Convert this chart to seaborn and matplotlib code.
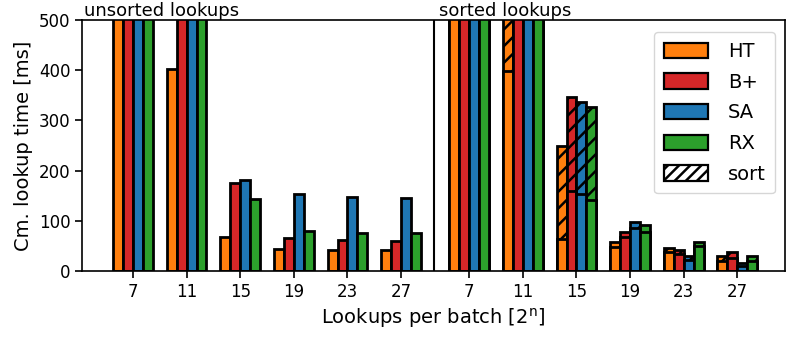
import numpy as np
import pandas as pd
import seaborn as sns
import matplotlib.pyplot as plt
from matplotlib.patches import Patch
from matplotlib.transforms import blended_transform_factory

# data (values above 500 are clipped in the plot)
batch_exp = ["7", "11", "15", "19", "23", "27"]
structures = ["HT", "B+", "SA", "RX"]

unsorted_ht = [900, 402, 68, 44, 42, 42]
unsorted_bp = [900, 800, 175, 66, 62, 60]
unsorted_sa = [900, 800, 181, 153, 148, 146]
unsorted_rx = [900, 800, 143, 80, 76, 76]

# sorted: lookup part and total (lookup + sort)
sorted_ht = [900, 398, 64, 47, 37, 19]
sorted_bp = [900, 800, 160, 67, 34, 25]
sorted_sa = [900, 800, 153, 85, 21, 9]
sorted_rx = [900, 800, 141, 77, 49, 20]
sorted_total_ht = [1000, 650, 249, 57, 45, 29]
sorted_total_bp = [1000, 900, 347, 77, 42, 37]
sorted_total_sa = [1000, 900, 337, 97, 29, 15]
sorted_total_rx = [1000, 900, 327, 92, 57, 30]

colors = ["#ff7f0e", "#d62728", "#1f77b4", "#2ca02c"]

sns.set_style("ticks")
plt.rcParams["font.family"] = ["DejaVu Sans"]
plt.rcParams["text.color"] = "black"
plt.rcParams["axes.labelcolor"] = "black"
plt.rcParams["axes.edgecolor"] = "black"
plt.rcParams["xtick.color"] = "black"
plt.rcParams["ytick.color"] = "black"
plt.rcParams["hatch.linewidth"] = 1.8

pos_unsorted = np.arange(6, dtype=float)
pos_sorted = np.arange(6) + 6.27
sep = 5.62

def frame(pos, series):
    rows = []
    for name, vals in zip(structures, series):
        for p, v in zip(pos, vals):
            rows.append({"pos": p, "structure": name, "value": v})
    return pd.DataFrame(rows)

lookups = pd.concat([
    frame(pos_unsorted, [unsorted_ht, unsorted_bp, unsorted_sa, unsorted_rx]),
    frame(pos_sorted, [sorted_ht, sorted_bp, sorted_sa, sorted_rx]),
])
totals = pd.concat([
    frame(pos_unsorted, [[0] * 6] * 4),
    frame(pos_sorted, [sorted_total_ht, sorted_total_bp, sorted_total_sa, sorted_total_rx]),
])

fig, ax = plt.subplots(figsize=(7.89, 3.47), dpi=100)
pal = dict(zip(structures, colors))

# hatched totals first, then the lookup part drawn over them
sns.barplot(data=totals, x="pos", y="value", hue="structure", hue_order=structures,
            palette=pal, native_scale=True, width=0.74, edgecolor="black",
            linewidth=2.0, errorbar=None, legend=False, ax=ax, saturation=1)
for p in ax.patches:
    p.set_hatch("//")
sns.barplot(data=lookups, x="pos", y="value", hue="structure", hue_order=structures,
            palette=pal, native_scale=True, width=0.74, edgecolor="black",
            linewidth=2.0, errorbar=None, legend=False, ax=ax, saturation=1)

ax.axvline(sep, color="black", linewidth=1.5)
ax.set_xlim(-0.95, 12.16)
ax.set_ylim(0, 500)
ax.set_yticks(range(0, 501, 100))
ax.set_xticks(list(pos_unsorted) + list(pos_sorted))
ax.set_xticklabels(batch_exp + batch_exp)
ax.tick_params(labelsize=12, width=1.2, length=5)
for s in ax.spines.values():
    s.set_linewidth(1.2)
    s.set_visible(True)
ax.set_xlabel("Lookups per batch [$\\mathregular{2^n}$]", fontsize=14)
ax.set_ylabel("Cm. lookup time [ms]", fontsize=14)

tr = blended_transform_factory(ax.transData, ax.transAxes)
ax.text(-0.92, 1.0, "unsorted lookups", transform=tr, fontsize=13, va="bottom", ha="left")
ax.text(sep + 0.08, 1.0, "sorted lookups", transform=tr, fontsize=13, va="bottom", ha="left")

handles = [Patch(facecolor=c, edgecolor="black", linewidth=1.6, label=n)
           for n, c in zip(structures, colors)]
handles.append(Patch(facecolor="white", edgecolor="black", linewidth=1.6, hatch="///", label="sort"))
ax.legend(handles=handles, loc="upper right", fontsize=14, bbox_to_anchor=(1.0, 0.99),
          handlelength=2.3, handleheight=0.85, labelspacing=0.6, handletextpad=1.0,
          borderpad=0.5)

fig.subplots_adjust(left=0.104, right=0.995, top=0.942, bottom=0.219)
fig.savefig("out.png", dpi=100)
